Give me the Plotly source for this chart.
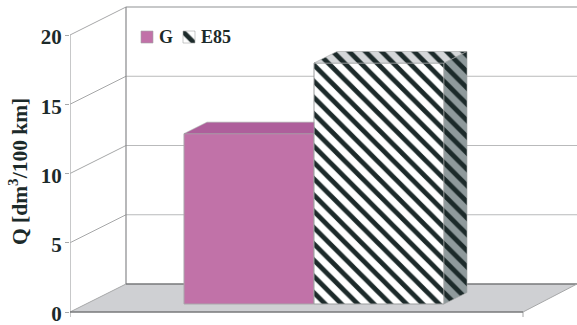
import plotly.graph_objects as go

# Fuel consumption per fuel type
categories = ["G", "E85"]
values = [12.3, 17.4]
tick_values = [0, 5, 10, 15, 20]

PINK, PINK_TOP = "#c172a8", "#ae5f9b"
INK = "#1c2a2a"
SERIF = "Liberation Serif, Times New Roman, serif"

# Axis scale: x in pixels from the front-left corner, y in value units
PX_PER_UNIT = 13.85
FLOOR_WIDTH = 453
X_MAX = 507
Y_MAX = 312 / PX_PER_UNIT
Y_MIN = -13 / PX_PER_UNIT
TICK_DROP = 5 / PX_PER_UNIT

# Oblique projection of the chart box and of the bars inside it
BOX_DX, BOX_DY = 56, 28 / PX_PER_UNIT
BAR_DX, BAR_DY = 23, 11.5 / PX_PER_UNIT
BAR_BASE = 8 / PX_PER_UNIT
BAR_LEFT, BAR_WIDTH = 114, 130


def hatch(bg):
    return dict(shape="\\", fgcolor=INK, bgcolor=bg, fgopacity=1, size=11.5, solidity=0.42)


def line(x0, y0, x1, y1, color, width=1):
    return dict(type="line", x0=x0, y0=y0, x1=x1, y1=y1, layer="below",
                xref="x", yref="y", line=dict(color=color, width=width))


shapes = [dict(type="path", layer="below", xref="x", yref="y",
               path=f"M0,0 L{FLOOR_WIDTH},0 L{X_MAX},{BOX_DY} L{BOX_DX},{BOX_DY} Z",
               fillcolor="#cfd0d3", line=dict(width=0))]
for t in tick_values:
    if t > 0:
        top = t == tick_values[-1]
        shapes.append(line(BOX_DX, t + BOX_DY, X_MAX, t + BOX_DY,
                           "#8f9193" if top else "#b9babb"))
    shapes.append(line(0, t, BOX_DX, t + BOX_DY, "#a6a7a8"))
shapes += [
    line(BOX_DX, BOX_DY, BOX_DX, tick_values[-1] + BOX_DY, "#88898b", 1.2),
    line(0, -TICK_DROP, 0, tick_values[-1], "#b5b6b7", 1.5),
    line(FLOOR_WIDTH, -TICK_DROP, FLOOR_WIDTH, 0, "#a6a7a8"),
    line(0, 0, FLOOR_WIDTH, 0, "#77787a", 1.5),
    line(BOX_DX, BOX_DY, X_MAX, BOX_DY, "#77787a", 1.5),
    line(FLOOR_WIDTH, 0, X_MAX, BOX_DY, "#a6a7a8"),
]

fig = go.Figure()

# Front faces
lefts = [BAR_LEFT + i * BAR_WIDTH for i in range(len(values))]
fig.add_bar(x=[lefts[0] + BAR_WIDTH / 2], y=[values[0]], base=BAR_BASE, width=BAR_WIDTH,
            name=categories[0], showlegend=False,
            marker=dict(color=PINK, line=dict(color="#a9a5aa", width=1)))
fig.add_bar(x=[lefts[1] + BAR_WIDTH / 2], y=[values[1]], base=BAR_BASE, width=BAR_WIDTH,
            name=categories[1], showlegend=False,
            marker=dict(color="white", line=dict(color="#9a9c9d", width=1),
                        pattern=hatch("white")))


def face(xs, ys, **style):
    fig.add_scatter(x=xs, y=ys, mode="lines", fill="toself", showlegend=False,
                    hoverinfo="skip", line=dict(color="#a2a4a5", width=0.6), **style)


# Top of the first bar, cut where the taller neighbour hides it
top0 = values[0] + BAR_BASE
edge = lefts[1]
face([lefts[0], lefts[0] + BAR_DX, edge, edge, lefts[0]],
     [top0, top0 + BAR_DY, top0 + BAR_DY, top0, top0], fillcolor=PINK_TOP)

# Top and side of the second bar
top1 = values[1] + BAR_BASE
x0, x1 = lefts[1], lefts[1] + BAR_WIDTH
face([x0, x0 + BAR_DX, x1 + BAR_DX, x1, x0],
     [top1, top1 + BAR_DY, top1 + BAR_DY, top1, top1],
     fillpattern=hatch("#d5d7d9"))
face([x1, x1 + BAR_DX, x1 + BAR_DX, x1, x1],
     [BAR_BASE, BAR_BASE + BAR_DY, top1 + BAR_DY, top1, BAR_BASE],
     fillpattern=hatch("#8f9a9c"))

# Key, placed inside the back wall
KEY_Y, KEY_H = 19.42, 12 / PX_PER_UNIT
KEY_X = [71, 113]
for kx, style in zip(KEY_X, [dict(fillcolor=PINK), dict(fillpattern=hatch("white"))]):
    face([kx, kx + 12, kx + 12, kx, kx],
         [KEY_Y, KEY_Y, KEY_Y + KEY_H, KEY_Y + KEY_H, KEY_Y], **style)

annotations = [
    dict(x=kx + 16, y=KEY_Y + KEY_H / 2, text=f"<b>{c}</b>", xref="x", yref="y",
         xanchor="left", yanchor="middle", showarrow=False,
         font=dict(family=SERIF, size=18, color=INK))
    for kx, c in zip(KEY_X, categories)
]
# Rotated axis title, sitting left of the tick labels
annotations.append(dict(
    x=-52 / X_MAX, y=1 - 172 / 325, xref="paper", yref="paper",
    text="<b>Q [dm<sup>3</sup>/100 km]</b>", textangle=-90, showarrow=False,
    xanchor="center", yanchor="middle",
    font=dict(family=SERIF, size=21.5, color=INK)))

fig.update_layout(
    width=577, height=325, autosize=False,
    margin=dict(l=70, r=0, t=0, b=0),
    paper_bgcolor="white", plot_bgcolor="white",
    barmode="overlay", showlegend=False, shapes=shapes, annotations=annotations,
    xaxis=dict(range=[0, X_MAX], showgrid=False, zeroline=False, showline=False,
               ticks="", showticklabels=False),
    yaxis=dict(range=[Y_MIN, Y_MAX], showgrid=False, zeroline=False, showline=False,
               tickmode="array", tickvals=tick_values, ticks="outside",
               ticklen=4, tickcolor="#a6a7a8", ticklabelstandoff=-1, ticklabelshift=2,
               ticklabeloverflow="allow",
               tickfont=dict(family=SERIF, size=21, color=INK, weight="bold")),
)

fig.write_html("out.html", config=dict(displayModeBar=False))
